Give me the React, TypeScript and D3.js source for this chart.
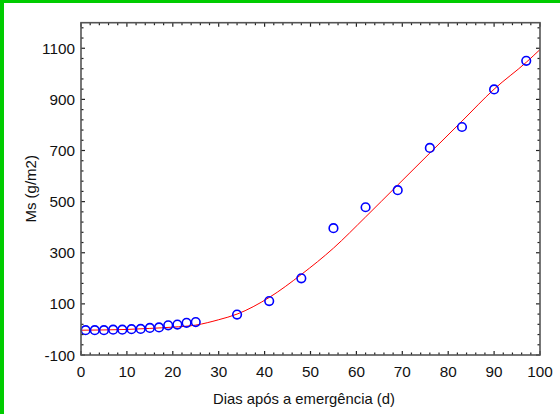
import React from "react";
import * as d3 from "d3";

const days = [1, 3, 5, 7, 9, 11, 13, 15, 17, 19, 21, 23, 25, 34, 41, 48, 55, 62, 69, 76, 83, 90, 97];
const ms = [-3, -3, -3, -1, -1, 1, 2, 6, 8, 16, 19, 26, 29, 58, 111, 200, 396, 478, 545, 710, 792, 939, 1051];

const fitDays = [0, 5, 10, 15, 20, 25, 30, 34, 41, 48, 55, 62, 69, 76, 83, 90, 97, 100];
const fitMs = [-3, -2, 0, 4, 9, 17, 38, 60, 125, 215, 318, 440, 565, 690, 815, 940, 1045, 1095];

const xTicks = [0, 10, 20, 30, 40, 50, 60, 70, 80, 90, 100];
const yTicks = [-100, 100, 300, 500, 700, 900, 1100];

const W = 560;
const H = 414;
const L = 81;
const R = 540;
const T = 22.7;
const B = 355;

export default function App() {
  const x = d3.scaleLinear().domain([0, 100]).range([L, R]);
  const y = d3.scaleLinear().domain([-100, 1200]).range([B, T]);

  const line = d3
    .line<number>()
    .x((_, i) => x(fitDays[i]))
    .y((d) => y(d))
    .curve(d3.curveMonotoneX);

  const xMinor = d3.range(0, 101, 2);
  const yMinor = d3.range(-100, 1201, 40);
  const font = "'Liberation Sans', Arial, sans-serif";

  return (
    <svg width={W} height={H} style={{ position: "absolute", left: 0, top: 0, background: "#fff" }}>
      <rect x={0} y={0} width={W} height={H} fill="#fff" />
      <rect x={0} y={0} width={4} height={H} fill="#00cc00" />
      <rect x={0} y={0} width={W} height={3} fill="#00cc00" />

      <path d={line(fitMs) || ""} fill="none" stroke="#ff0000" strokeWidth={1} />

      {days.map((d, i) => (
        <circle key={i} cx={x(d)} cy={y(ms[i])} r={4.3} fill="none" stroke="#0000ff" strokeWidth={1.6} />
      ))}

      {xMinor.map((v) => {
        const major = v % 10 === 0;
        const len = major ? 4 : 2.5;
        return (
          <g key={"xm" + v}>
            <line x1={x(v)} x2={x(v)} y1={B} y2={B - len} stroke="#222" strokeWidth={1.2} />
            <line x1={x(v)} x2={x(v)} y1={T} y2={T + len} stroke="#222" strokeWidth={1.2} />
          </g>
        );
      })}
      {yMinor.map((v) => {
        const major = (v - 100) % 200 === 0;
        const len = major ? 4 : 2.5;
        return (
          <g key={"ym" + v}>
            <line x1={L} x2={L + len} y1={y(v)} y2={y(v)} stroke="#222" strokeWidth={1.2} />
            <line x1={R} x2={R - len} y1={y(v)} y2={y(v)} stroke="#222" strokeWidth={1.2} />
          </g>
        );
      })}

      <rect x={L} y={T} width={R - L} height={B - T} fill="none" stroke="#555" strokeWidth={1.6} />

      {xTicks.map((v) => (
        <text key={"xt" + v} x={x(v)} y={377} textAnchor="middle" fontFamily={font} fontSize={15.3} fill="#111">
          {v}
        </text>
      ))}
      {yTicks.map((v) => (
        <text key={"yt" + v} x={75} y={y(v) + 5.5} textAnchor="end" fontFamily={font} fontSize={15.3} fill="#111">
          {v}
        </text>
      ))}

      <text x={304} y={404} textAnchor="middle" fontFamily={font} fontSize={14.8} fill="#111">
        Dias após a emergência (d)
      </text>
      <text
        transform={`translate(36, ${(T + B) / 2}) rotate(-90)`}
        textAnchor="middle"
        fontFamily={font}
        fontSize={15}
        fill="#111"
      >
        Ms (g/m2)
      </text>
    </svg>
  );
}
